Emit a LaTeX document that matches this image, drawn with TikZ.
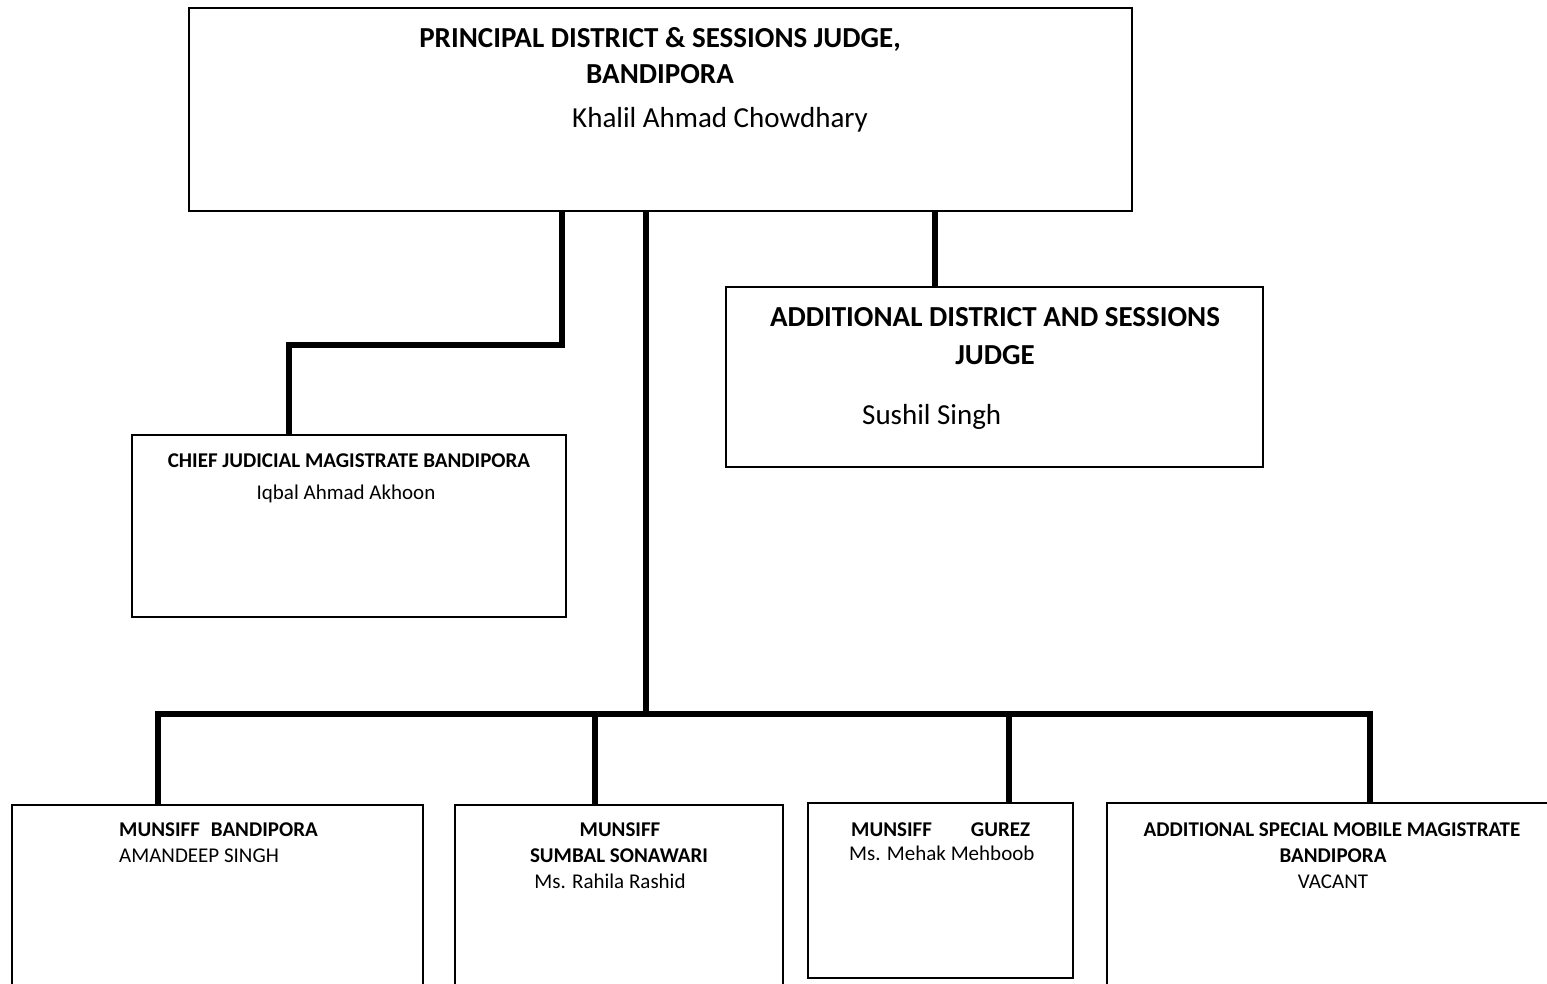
\documentclass[tikz,border=0pt]{standalone}
\usepackage{fontspec}
\setmainfont{Carlito}
\begin{document}
\begin{tikzpicture}[x=1pt,y=-1pt,
  box/.style={draw=black, line width=2.6pt, rectangle, inner sep=0pt, outer sep=0pt, anchor=north west},
  conn/.style={draw=black, line width=6pt, line cap=butt, line join=miter},
  big/.style={inner sep=0pt, anchor=base, font=\fontsize{29}{35}\selectfont},
  bigb/.style={big, font=\fontsize{29}{35}\selectfont\bfseries},
  small/.style={inner sep=0pt, anchor=base, font=\fontsize{21}{26}\selectfont},
  smallb/.style={small, font=\fontsize{21}{26}\selectfont\bfseries}]
\useasboundingbox (0,0) rectangle (1547,983);
\clip (0,0) rectangle (1547,983);
\fill[white] (0,0) rectangle (1547,983);
% boxes
\node[box, minimum width=943, minimum height=203] (top) at (189,8) {};
\node[box, minimum width=537, minimum height=180] (adj) at (726,287) {};
\node[box, minimum width=434, minimum height=182] (cjm) at (132,435) {};
\node[box, minimum width=411, minimum height=200] (m1) at (12,805) {};
\node[box, minimum width=328, minimum height=200] (m2) at (455,805) {};
\node[box, minimum width=265, minimum height=175] (m3) at (808,803) {};
\node[box, minimum width=460, minimum height=200] (m4) at (1107,803) {};
% texts
\node[bigb] (t1) at (660,47) {PRINCIPAL DISTRICT \& SESSIONS JUDGE,};
\node[bigb] (t2) at (660,83) {BANDIPORA};
\node[big, anchor=base west] (t3) at (572,127) {Khalil Ahmad Chowdhary};
\node[bigb] (a1) at (995,326) {ADDITIONAL DISTRICT AND SESSIONS};
\node[bigb] (a2) at (995,364) {JUDGE};
\node[big, anchor=base west] (a3) at (862,424) {Sushil Singh};
\node[smallb] (c1) at (349,467) {CHIEF JUDICIAL MAGISTRATE BANDIPORA};
\node[small] (c2) at (346,499) {Iqbal Ahmad Akhoon};
\node[smallb, anchor=base west] (b1) at (119,836) {MUNSIFF\hspace{11pt}BANDIPORA};
\node[small, anchor=base west] (b2) at (119,862) {AMANDEEP SINGH};
\node[smallb] (s1) at (620,836) {MUNSIFF};
\node[smallb] (s2) at (619,862) {SUMBAL SONAWARI};
\node[small] (s3) at (610,888) {Ms. Rahila Rashid};
\node[smallb, anchor=base west] (g1) at (851,836) {MUNSIFF\hspace{39pt}GUREZ};
\node[small, anchor=base west] (g2) at (849,860) {Ms. Mehak Mehboob};
\node[smallb] (v1) at (1332,836) {ADDITIONAL SPECIAL MOBILE MAGISTRATE};
\node[smallb] (v2) at (1333,862) {BANDIPORA};
\node[small] (v3) at (1333,888) {VACANT};
% connectors
\coordinate (j1) at (562,345);
\coordinate (j2) at (289,345);
\coordinate (jadj) at (935,250);
\coordinate (bus) at (646,714);
\coordinate (d1) at (158,714);
\coordinate (d2) at (595,714);
\coordinate (d3) at (1009,714);
\coordinate (d4) at (1370,714);
\draw[conn] (top.south -| j1) -- (j1) -- (j2) -- (j2 |- cjm.north);
\draw[conn] (top.south -| jadj) -- (jadj |- adj.north);
\draw[conn] (top.south -| bus) -- (bus);
\draw[conn, line cap=rect] (d1) -- (d4);
\draw[conn] (d1) -- (d1 |- m1.north);
\draw[conn] (d2) -- (d2 |- m2.north);
\draw[conn] (d3) -- (d3 |- m3.north);
\draw[conn] (d4) -- (d4 |- m4.north);
\end{tikzpicture}
\end{document}
